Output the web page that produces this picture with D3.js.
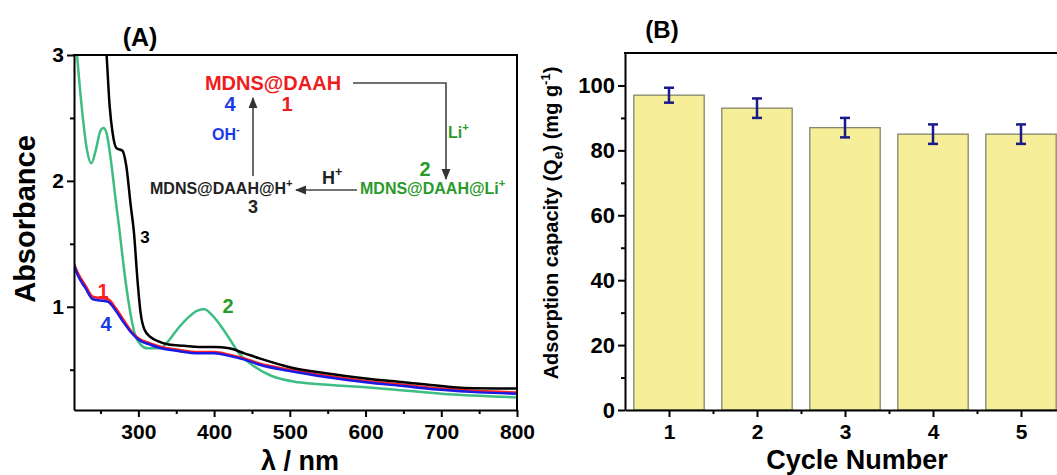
<!DOCTYPE html>
<html>
<head>
<meta charset="utf-8">
<script src="https://cdn.jsdelivr.net/npm/d3@7"></script>
<style>
  body { margin: 0; background: #fff; }
  svg text { font-family: "Liberation Sans", Arial, sans-serif; font-weight: bold; }
  .axis path, .axis line { stroke: #000; stroke-width: 2; }
  .axis text { fill: #000; }
</style>
</head>
<body>
<svg id="chart" width="1057" height="475"></svg>
<script>
// ---- panel A: UV-vis spectra [wavelength nm, absorbance] ----
var curve1 = [[215,1.34],[220,1.27],[230,1.17],[240,1.08],[250,1.07],[260,1.06],[270,0.99],[280,0.9],[290,0.81],[300,0.75],[315,0.71],[330,0.68],[350,0.66],[380,0.64],[400,0.64],[420,0.62],[440,0.59],[460,0.55],[500,0.5],[550,0.45],[600,0.41],[650,0.38],[700,0.35],[750,0.33],[800,0.32]];
var curve4 = [[215,1.33],[220,1.25],[230,1.15],[240,1.06],[250,1.05],[260,1.04],[270,0.97],[280,0.88],[290,0.8],[300,0.74],[315,0.7],[330,0.67],[350,0.65],[380,0.63],[400,0.63],[420,0.61],[440,0.58],[460,0.54],[500,0.49],[550,0.44],[600,0.4],[650,0.37],[700,0.34],[750,0.32],[800,0.31]];
var curve3 = [[254,3.3],[258,3.0],[262,2.6],[266,2.38],[271,2.26],[279,2.24],[284,2.12],[290,1.8],[294,1.6],[299,1.2],[303,0.95],[308,0.82],[316,0.76],[325,0.73],[340,0.7],[360,0.69],[380,0.68],[400,0.68],[420,0.67],[440,0.63],[460,0.59],[500,0.52],[550,0.47],[600,0.43],[650,0.4],[700,0.37],[730,0.355],[800,0.35]];
var curve2 = [[215,3.3],[219,3.0],[225,2.6],[232,2.25],[238,2.14],[244,2.25],[250,2.4],[254,2.42],[258,2.38],[264,2.15],[270,1.85],[275,1.61],[281,1.3],[286,1.08],[291,0.9],[295,0.79],[303,0.7],[312,0.67],[328,0.67],[340,0.73],[350,0.81],[365,0.91],[378,0.97],[387,0.98],[398,0.93],[411,0.83],[422,0.73],[433,0.63],[450,0.54],[476,0.45],[512,0.4],[550,0.38],[600,0.36],[700,0.31],[800,0.28]];
var xTicksA = [300, 400, 500, 600, 700, 800];
var yTicksA = [1, 2, 3];

// ---- panel B: adsorption over cycles ----
var cycles = [1, 2, 3, 4, 5];
var capacity = [97, 93, 87, 85, 85];
var capErr = [2.3, 3, 3, 3, 3];
var yTicksB = [0, 20, 40, 60, 80, 100];

var svg = d3.select("#chart");

// ================= Panel A =================
var xA = d3.scaleLinear().domain([215, 800]).range([74, 517]);
var yA = d3.scaleLinear().domain([0.18, 3]).range([410, 55]);

svg.append("clipPath").attr("id", "clipA")
  .append("rect").attr("x", 74).attr("y", 55).attr("width", 443).attr("height", 355);

var line = d3.line()
  .x(function(d) { return xA(d[0]); })
  .y(function(d) { return yA(d[1]); })
  .curve(d3.curveMonotoneX);

var gA = svg.append("g").attr("clip-path", "url(#clipA)");
gA.append("path").datum(curve2).attr("d", line).attr("fill", "none").attr("stroke", "#3dbd82").attr("stroke-width", 2.5);
gA.append("path").datum(curve1).attr("d", line).attr("fill", "none").attr("stroke", "#ff2020").attr("stroke-width", 2.5);
gA.append("path").datum(curve4).attr("d", line).attr("fill", "none").attr("stroke", "#1a1ae6").attr("stroke-width", 2.5);
gA.append("path").datum(curve3).attr("d", line).attr("fill", "none").attr("stroke", "#000").attr("stroke-width", 2.5);

// axes
svg.append("g").attr("class", "axis").attr("transform", "translate(0,410)")
  .call(d3.axisBottom(xA).tickValues(xTicksA).tickSize(7).tickSizeOuter(0))
  .selectAll("text").attr("font-size", 21).attr("dy", "0.9em");
svg.append("g").attr("class", "axis").attr("transform", "translate(0,410)")
  .call(d3.axisBottom(xA).tickValues([250, 350, 450, 550, 650, 750]).tickSize(4).tickSizeOuter(0).tickFormat(""))
  .select(".domain").remove();
svg.append("g").attr("class", "axis").attr("transform", "translate(74,0)")
  .call(d3.axisLeft(yA).tickValues(yTicksA).tickSize(7).tickSizeOuter(0).tickFormat(d3.format("d")))
  .selectAll("text").attr("font-size", 21);
svg.append("g").attr("class", "axis").attr("transform", "translate(74,0)")
  .call(d3.axisLeft(yA).tickValues([0.5, 1.5, 2.5]).tickSize(4).tickSizeOuter(0).tickFormat(""))
  .select(".domain").remove();
// frame top / right
svg.append("line").attr("x1", 73).attr("x2", 518).attr("y1", 55).attr("y2", 55).attr("stroke", "#000").attr("stroke-width", 2);
svg.append("line").attr("x1", 517).attr("x2", 517).attr("y1", 55).attr("y2", 411).attr("stroke", "#000").attr("stroke-width", 2);

svg.append("text").attr("x", 140).attr("y", 46).attr("text-anchor", "middle").attr("font-size", 25).text("(A)");
svg.append("text").attr("transform", "translate(35,219) rotate(-90)").attr("text-anchor", "middle").attr("font-size", 29).text("Absorbance");
svg.append("text").attr("x", 300).attr("y", 470).attr("text-anchor", "middle").attr("font-size", 27).text("λ / nm");

// curve labels
svg.append("text").attr("x", 103).attr("y", 298).attr("text-anchor", "middle").attr("font-size", 20).attr("fill", "#ff2020").text("1");
svg.append("text").attr("x", 106).attr("y", 331).attr("text-anchor", "middle").attr("font-size", 20).attr("fill", "#1a3be6").text("4");
svg.append("text").attr("x", 145).attr("y", 243).attr("text-anchor", "middle").attr("font-size", 17).text("3");
svg.append("text").attr("x", 228).attr("y", 313).attr("text-anchor", "middle").attr("font-size", 20).attr("fill", "#2a9a2a").text("2");

// reaction scheme
var defs = svg.append("defs");
defs.append("marker").attr("id", "arr").attr("viewBox", "0 0 10 10").attr("refX", 9).attr("refY", 5)
  .attr("markerWidth", 7).attr("markerHeight", 7).attr("orient", "auto")
  .append("path").attr("d", "M0,1L10,5L0,9Z").attr("fill", "#333");

function arrow(pts) {
  svg.append("path").attr("d", d3.line()(pts)).attr("fill", "none").attr("stroke", "#444")
    .attr("stroke-width", 1.6).attr("marker-end", "url(#arr)");
}
arrow([[353, 83], [446, 83], [446, 179]]);
arrow([[357, 190], [296, 190]]);
arrow([[253, 176], [253, 98]]);

function supText(x, y, main, sup, size, color, anchor) {
  var t = svg.append("text").attr("x", x).attr("y", y).attr("font-size", size).attr("fill", color)
    .attr("text-anchor", anchor || "start");
  t.append("tspan").text(main);
  t.append("tspan").attr("dy", -size * 0.45).attr("font-size", size * 0.7).text(sup);
  return t;
}
svg.append("text").attr("x", 273).attr("y", 90).attr("text-anchor", "middle").attr("font-size", 20).attr("fill", "#ee1c1c").text("MDNS@DAAH");
svg.append("text").attr("x", 287).attr("y", 111).attr("text-anchor", "middle").attr("font-size", 20).attr("fill", "#ee1c1c").text("1");
svg.append("text").attr("x", 230).attr("y", 111).attr("text-anchor", "middle").attr("font-size", 20).attr("fill", "#1a3be6").text("4");
supText(212, 140, "OH", "-", 16, "#1a3be6");
supText(448, 138, "Li", "+", 16, "#2a9a2a");
svg.append("text").attr("x", 425).attr("y", 176).attr("text-anchor", "middle").attr("font-size", 20).attr("fill", "#2a9a2a").text("2");
supText(360, 194, "MDNS@DAAH@Li", "+", 16, "#2a9a2a");
supText(322, 184, "H", "+", 18, "#222");
supText(150, 194, "MDNS@DAAH@H", "+", 16, "#222");
svg.append("text").attr("x", 253).attr("y", 213).attr("text-anchor", "middle").attr("font-size", 18).attr("fill", "#222").text("3");

// ================= Panel B =================
var xB = d3.scaleLinear().domain([0.5, 5.5]).range([625, 1065]);
var yB = d3.scaleLinear().domain([0, 110]).range([410, 53]);
var barW = xB(1.4) - xB(0.6);

var gB = svg.append("g");
gB.selectAll("rect.bar").data(cycles).enter().append("rect")
  .attr("class", "bar")
  .attr("x", function(d) { return xB(d) - barW / 2; })
  .attr("y", function(d, i) { return yB(capacity[i]); })
  .attr("width", barW)
  .attr("height", function(d, i) { return yB(0) - yB(capacity[i]); })
  .attr("fill", "#f6ee98").attr("stroke", "#85856a").attr("stroke-width", 1.3);

// error bars
var eb = gB.selectAll("g.err").data(cycles).enter().append("g").attr("class", "err")
  .attr("stroke", "#1a1a8a").attr("stroke-width", 2.5);
eb.append("line")
  .attr("x1", function(d) { return xB(d); }).attr("x2", function(d) { return xB(d); })
  .attr("y1", function(d, i) { return yB(capacity[i] + capErr[i]); })
  .attr("y2", function(d, i) { return yB(capacity[i] - capErr[i]); });
eb.append("line")
  .attr("x1", function(d) { return xB(d) - 5; }).attr("x2", function(d) { return xB(d) + 5; })
  .attr("y1", function(d, i) { return yB(capacity[i] + capErr[i]); })
  .attr("y2", function(d, i) { return yB(capacity[i] + capErr[i]); });
eb.append("line")
  .attr("x1", function(d) { return xB(d) - 5; }).attr("x2", function(d) { return xB(d) + 5; })
  .attr("y1", function(d, i) { return yB(capacity[i] - capErr[i]); })
  .attr("y2", function(d, i) { return yB(capacity[i] - capErr[i]); });

svg.append("g").attr("class", "axis").attr("transform", "translate(0,410)")
  .call(d3.axisBottom(xB).tickValues(cycles).tickSize(7).tickSizeOuter(0).tickFormat(d3.format("d")))
  .selectAll("text").attr("font-size", 21).attr("dy", "0.9em");
svg.append("g").attr("class", "axis").attr("transform", "translate(0,410)")
  .call(d3.axisBottom(xB).tickValues([1.5, 2.5, 3.5, 4.5]).tickSize(4).tickSizeOuter(0).tickFormat(""))
  .select(".domain").remove();
svg.append("g").attr("class", "axis").attr("transform", "translate(625,0)")
  .call(d3.axisLeft(yB).tickValues(yTicksB).tickSize(7).tickSizeOuter(0))
  .selectAll("text").attr("font-size", 22);
svg.append("g").attr("class", "axis").attr("transform", "translate(625,0)")
  .call(d3.axisLeft(yB).tickValues([10, 30, 50, 70, 90]).tickSize(4).tickSizeOuter(0).tickFormat(""))
  .select(".domain").remove();
svg.append("line").attr("x1", 624).attr("x2", 1057).attr("y1", 53).attr("y2", 53).attr("stroke", "#000").attr("stroke-width", 2);

svg.append("text").attr("x", 662).attr("y", 38).attr("text-anchor", "middle").attr("font-size", 24).text("(B)");
svg.append("text").attr("x", 857).attr("y", 469).attr("text-anchor", "middle").attr("font-size", 27).text("Cycle Number");

var yt = svg.append("text").attr("transform", "translate(558,223) rotate(-90)").attr("text-anchor", "middle")
  .attr("font-size", 20).style("font-weight", "700").attr("fill", "#000");
yt.append("tspan").text("Adsorption capacity (Q");
yt.append("tspan").attr("dy", 5).attr("font-size", 14).text("e");
yt.append("tspan").attr("dy", -5).text(") (mg g");
yt.append("tspan").attr("dy", -8).attr("font-size", 13).text("-1");
yt.append("tspan").attr("dy", 8).text(")");
</script>
</body>
</html>
